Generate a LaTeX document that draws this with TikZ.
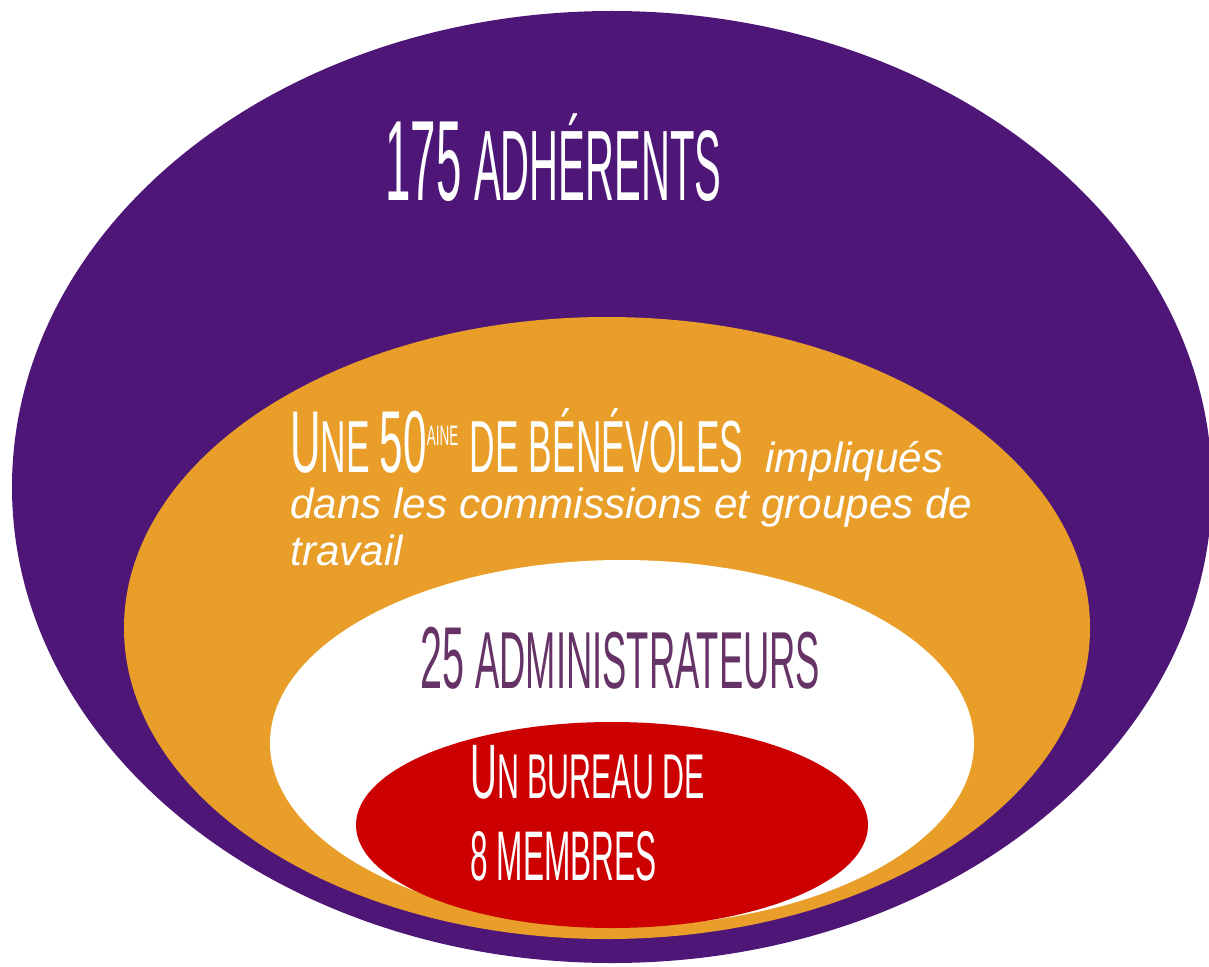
\documentclass[tikz,border=0pt]{standalone}
\usepackage{fontspec}
\setmainfont{Liberation Sans}
\newfontfamily\amatic[FakeStretch=0.48]{Liberation Sans}
\newfontfamily\amaticserre[FakeStretch=0.45]{Liberation Sans}
\newfontfamily\amaticetroit[FakeStretch=0.40]{Liberation Sans}
\newfontfamily\texte{Liberation Sans}
\newcommand{\taille}[1]{\fontsize{#1}{#1}\selectfont}
\definecolor{adhviolet}{HTML}{4E1777}
\definecolor{benorange}{HTML}{E89E28}
\definecolor{burrouge}{HTML}{CC0000}
\definecolor{admprune}{HTML}{663366}
\tikzstyle{titre}=[inner sep=0pt,anchor=base west,font=\amatic]
\tikzstyle{phrase}=[inner sep=0pt,anchor=base west,text=white,font=\texte\itshape\taille{24}]

\begin{document}
\begin{tikzpicture}[x=0.02cm,y=-0.02cm]
\clip (0,0) rectangle (1209,966);
\fill[white] (0,0) rectangle (1209,966);

\fill[adhviolet] (612,487) ellipse [x radius=600,y radius=476];
\fill[benorange] (607,628) ellipse [x radius=483,y radius=311];
\fill[white] (622,743) ellipse [x radius=352,y radius=183];
\fill[burrouge] (612,825) ellipse [x radius=256,y radius=103];

\node[titre,text=white,font=\amaticetroit] (adherents) at (385,200) {\taille{65}175 \taille{57}ADHÉRENTS};

\node[titre,text=white] (benevoles) at (290,472) {\taille{50}U\taille{42}NE \taille{50}50\raisebox{15pt}{\taille{16}AINE} \taille{42}DE BÉNÉVOLES {\texte\itshape\taille{24} impliqués}};
\node[phrase] (commissions) at (290,518) {dans les commissions et groupes de};
\node[phrase] (travail) at (290,565) {travail};

\node[titre,text=admprune,font=\amaticserre] (admin) at (420,688) {\taille{50}25 \taille{46}ADMINISTRATEURS};

\node[titre,text=white] (bureau) at (470,798) {\taille{44}U\taille{36}N BUREAU DE};
\node[titre,text=white,font=\amaticserre] (membres) at (470,880) {\taille{40}8 MEMBRES};
\end{tikzpicture}
\end{document}
